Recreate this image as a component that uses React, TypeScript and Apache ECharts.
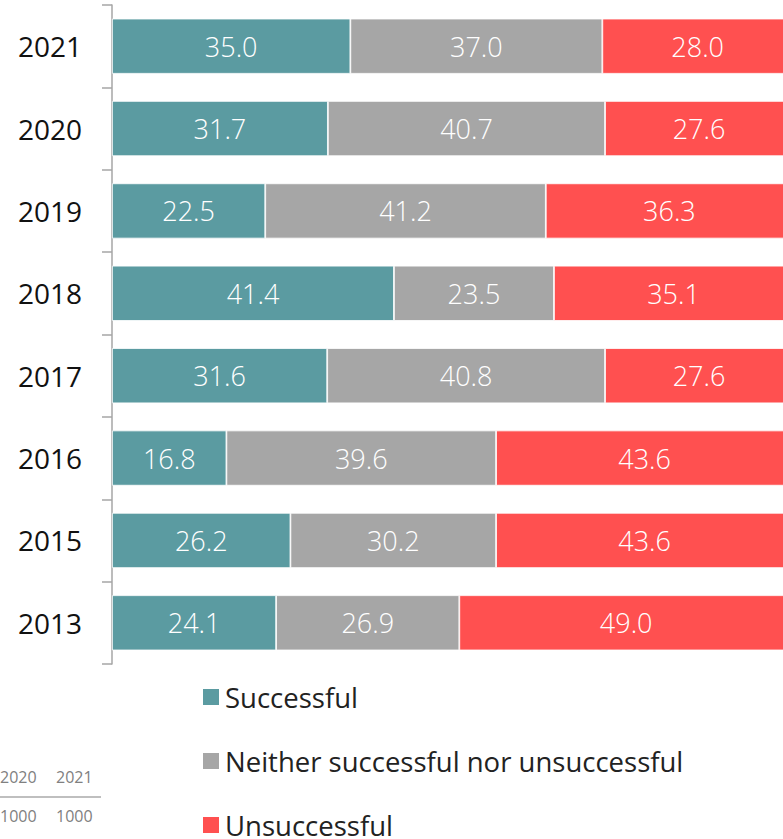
import React, { useEffect, useRef } from "react";
import * as echarts from "echarts";

const years = ["2021", "2020", "2019", "2018", "2017", "2016", "2015", "2013"];
const successful = [35.0, 31.7, 22.5, 41.4, 31.6, 16.8, 26.2, 24.1];
const neither = [37.0, 40.7, 41.2, 23.5, 40.8, 39.6, 30.2, 26.9];
const unsuccessful = [28.0, 27.6, 36.3, 35.1, 27.6, 43.6, 43.6, 49.0];
const seriesNames = ["Successful", "Neither successful nor unsuccessful", "Unsuccessful"];
const colors = ["#5B9BA1", "#A6A6A6", "#FF5050"];
const tableYears = ["2020", "2021"];
const tableN = ["1000", "1000"];

const FONT = "'Open Sans', 'Noto Sans', sans-serif";

export default function App() {
  const ref = useRef<HTMLDivElement>(null);
  useEffect(() => {
    if (!ref.current) return;
    const chart = echarts.init(ref.current, undefined, { renderer: "svg" });
    const values = [successful, neither, unsuccessful];
    chart.setOption({
      animation: false,
      textStyle: { fontFamily: FONT },
      grid: { left: 112, top: 5, width: 681, height: 659, outerBoundsMode: "none", containLabel: false },
      xAxis: {
        type: "value",
        min: 0,
        max: 100,
        show: false,
      },
      yAxis: {
        type: "category",
        data: years,
        inverse: true,
        axisLine: { show: true, lineStyle: { color: "#A6A6A6", width: 1.5 } },
        axisTick: { show: true, length: 10, lineStyle: { color: "#A6A6A6", width: 1.5 } },
        axisLabel: { fontSize: 28, color: "#111", margin: 30, fontFamily: FONT },
        splitLine: { show: false },
      },
      legend: {
        orient: "vertical",
        left: 201,
        top: 683,
        padding: 0,
        height: 200,
        icon: "rect",
        itemWidth: 18,
        itemHeight: 18,
        itemGap: 36,
        textStyle: { fontSize: 27.5, lineHeight: 27, color: "#222", fontFamily: FONT },
        data: seriesNames,
      },
      series: seriesNames.map((name, i) => ({
        name,
        type: "bar",
        stack: "total",
        data: values[i],
        barCategoryGap: "33%",
        itemStyle: { color: colors[i], borderColor: "#ffffff", borderWidth: 0.8 },
        label: {
          show: true,
          position: "inside",
          color: "#ffffff",
          fontSize: 27,
          fontWeight: 300,
          fontFamily: FONT,
          formatter: (p: any) => Number(p.value).toFixed(1),
        },
      })),
      graphic: [
        ...tableYears.map((t, i) => ({
          type: "text",
          left: i * 56,
          top: 769,
          style: { text: t, fontSize: 16, fill: "#808080", fontFamily: FONT },
        })),
        {
          type: "line",
          shape: { x1: 0, y1: 797, x2: 101, y2: 797 },
          style: { stroke: "#BFBFBF", lineWidth: 2 },
        },
        ...tableN.map((t, i) => ({
          type: "text",
          left: i * 56,
          top: 808,
          style: { text: t, fontSize: 16, fill: "#808080", fontFamily: FONT },
        })),
      ],
    });
    return () => chart.dispose();
  }, []);
  return (
    <div
      ref={ref}
      style={{ position: "fixed", left: 0, top: 0, width: 783, height: 839, background: "#fff" }}
    />
  );
}
